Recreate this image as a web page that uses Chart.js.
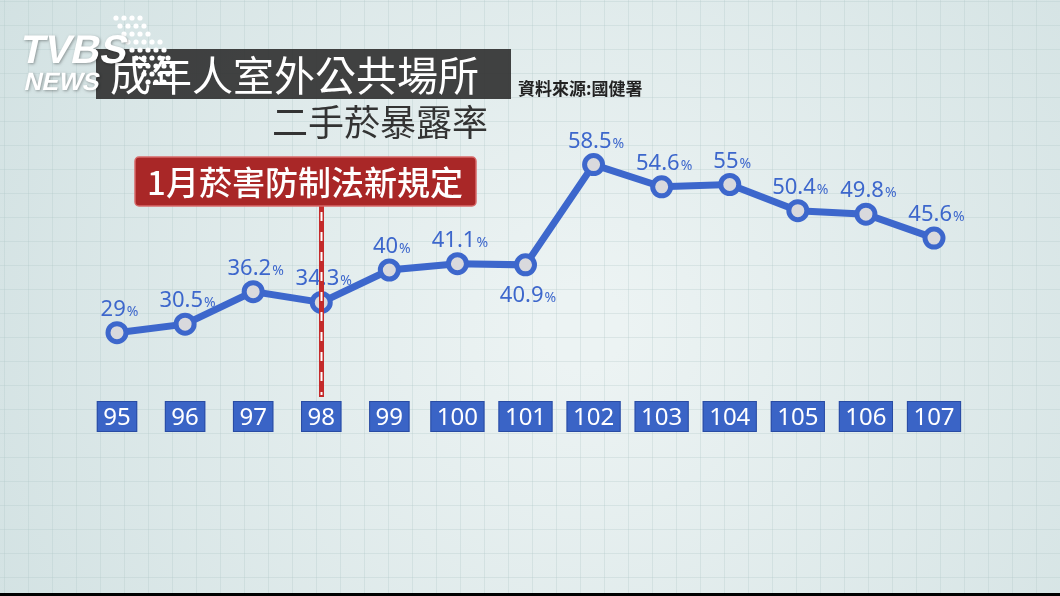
<!DOCTYPE html>
<html>
<head>
<meta charset="utf-8">
<script src="https://cdn.jsdelivr.net/npm/chart.js@4"></script>
<style>
  html, body { margin: 0; padding: 0; background: #000; }
  #chart { display: block; }
</style>
</head>
<body>
<canvas id="chart" width="1060" height="596"></canvas>
<script>
// ==========================================
// DATA
// ==========================================
const years = ['95', '96', '97', '98', '99', '100', '101', '102', '103', '104', '105', '106', '107'];
const exposureRates = [29, 30.5, 36.2, 34.3, 40, 41.1, 40.9, 58.5, 54.6, 55, 50.4, 49.8, 45.6];
const titleLine1 = '成年人室外公共場所';
const titleLine2 = '二手菸暴露率';
const sourceText = '資料來源:國健署';
const eventText = '1月菸害防制法新規定';
const eventYear = '98';

const BLUE = '#3d67cc';
const CJK = '"Noto Sans CJK TC", "Noto Sans", sans-serif';
const NUM = '"Noto Sans", "DejaVu Sans", sans-serif';

// ==========================================
// BACKGROUND (grid paper + titles + logo)
// ==========================================
const backgroundPlugin = {
  id: 'tvbsBackground',
  beforeDraw(chart) {
    const ctx = chart.ctx;
    const w = chart.width, h = chart.height;
    ctx.save();

    const g = ctx.createRadialGradient(w * 0.55, h * 0.55, 40, w * 0.55, h * 0.55, w * 0.75);
    g.addColorStop(0, '#ecf3f3');
    g.addColorStop(1, '#cddedf');
    ctx.fillStyle = g;
    ctx.fillRect(0, 0, w, h);

    ctx.strokeStyle = 'rgba(175,198,200,0.3)';
    ctx.lineWidth = 1;
    ctx.beginPath();
    for (let x = 4; x < w; x += 24) { ctx.moveTo(x + 0.5, 0); ctx.lineTo(x + 0.5, h); }
    for (let y = 1; y < h; y += 24) { ctx.moveTo(0, y + 0.5); ctx.lineTo(w, y + 0.5); }
    ctx.stroke();

    // title box
    ctx.fillStyle = 'rgba(50,50,50,0.92)';
    ctx.fillRect(96, 49, 415, 50);
    ctx.fillStyle = '#ffffff';
    ctx.font = '41px ' + CJK;
    ctx.textBaseline = 'middle';
    ctx.textAlign = 'left';
    ctx.fillText(titleLine1, 110, 75);

    ctx.fillStyle = '#333333';
    ctx.font = '36px ' + CJK;
    ctx.textAlign = 'center';
    ctx.fillText(titleLine2, 380, 122);

    ctx.fillStyle = '#222222';
    ctx.font = 'bold 17px ' + CJK;
    ctx.textAlign = 'left';
    ctx.fillText(sourceText, 518, 89);

    // logo
    ctx.fillStyle = '#ffffff';
    const dotRows = [[0, 4], [1, 4], [2, 4], [3, 5], [4, 5], [5, 5], [6, 5], [7, 4], [8, 3]];
    dotRows.forEach(([r, n]) => {
      for (let i = 0; i < n; i++) {
        ctx.beginPath();
        ctx.arc(116 + r * 4 + i * 8, 18 + r * 8, 2.6, 0, Math.PI * 2);
        ctx.fill();
      }
    });
    ctx.shadowColor = 'rgba(0,0,0,0.35)';
    ctx.shadowBlur = 3;
    ctx.shadowOffsetX = 1;
    ctx.shadowOffsetY = 1;
    ctx.textBaseline = 'alphabetic';
    ctx.save();
    ctx.transform(1, 0, -0.22, 1, 0, 0);
    ctx.font = 'bold 40px "Liberation Sans", Arial, sans-serif';
    ctx.fillText('TVBS', 32, 63);
    ctx.font = 'bold 25px "Liberation Sans", Arial, sans-serif';
    ctx.fillText('NEWS', 43, 90);
    ctx.restore();
    ctx.restore();

    // bottom black strip
    ctx.fillStyle = '#000';
    ctx.fillRect(0, 593, w, 3);
  }
};

// ==========================================
// LABELS, YEAR BOXES, EVENT MARKER
// ==========================================
const overlayPlugin = {
  id: 'overlay',
  afterDatasetsDraw(chart) {
    const ctx = chart.ctx;
    const meta = chart.getDatasetMeta(0);
    const xs = chart.scales.x;
    ctx.save();

    // value labels
    meta.data.forEach((pt, i) => {
      const num = String(exposureRates[i]);
      ctx.font = '22px ' + NUM;
      const wNum = ctx.measureText(num).width;
      ctx.font = '14px ' + NUM;
      const wPct = ctx.measureText('%').width;
      const left = pt.x + 2 - (wNum + wPct) / 2;
      const base = i === 6 ? pt.y + 37 : pt.y - 17;
      ctx.fillStyle = BLUE;
      ctx.textAlign = 'left';
      ctx.textBaseline = 'alphabetic';
      ctx.font = '22px ' + NUM;
      ctx.fillText(num, left, base);
      ctx.font = '14px ' + NUM;
      ctx.fillText('%', left + wNum + 1, base);
    });

    // year boxes
    years.forEach((yr) => {
      const cx = xs.getPixelForValue(years.indexOf(yr));
      ctx.font = '24px ' + NUM;
      const bw = ctx.measureText(yr).width + 13;
      ctx.fillStyle = '#3a64c6';
      ctx.fillRect(cx - bw / 2, 401, bw, 31);
      ctx.strokeStyle = 'rgba(30,60,140,0.6)';
      ctx.lineWidth = 1;
      ctx.strokeRect(cx - bw / 2 + 0.5, 401.5, bw - 1, 30);
      ctx.fillStyle = '#ffffff';
      ctx.textAlign = 'center';
      ctx.fillText(yr, cx, 425);
    });

    // event marker
    const ex = Math.round(xs.getPixelForValue(years.indexOf(eventYear)));
    ctx.fillStyle = '#c42a2a';
    ctx.fillRect(ex - 2, 205, 5, 192);
    ctx.strokeStyle = '#ffffff';
    ctx.lineWidth = 2;
    ctx.setLineDash([9, 11]);
    ctx.beginPath();
    ctx.moveTo(ex + 0.5, 212);
    ctx.lineTo(ex + 0.5, 395);
    ctx.stroke();
    ctx.setLineDash([]);

    // event box
    ctx.fillStyle = '#a92727';
    ctx.strokeStyle = '#d86a6a';
    ctx.lineWidth = 1.5;
    ctx.beginPath();
    ctx.roundRect(135, 157, 341, 49, 4);
    ctx.fill();
    ctx.stroke();
    ctx.fillStyle = '#ffffff';
    ctx.font = '500 33px ' + CJK;
    ctx.textAlign = 'center';
    ctx.textBaseline = 'middle';
    ctx.fillText(eventText, 305, 182);
    ctx.restore();
  }
};

// ==========================================
// CHART
// ==========================================
new Chart(document.getElementById('chart'), {
  type: 'line',
  data: {
    labels: years,
    datasets: [{
      data: exposureRates,
      borderColor: BLUE,
      borderWidth: 7,
      pointRadius: 9,
      pointBorderWidth: 5,
      pointBackgroundColor: '#d9d9dd',
      pointBorderColor: BLUE,
      tension: 0
    }]
  },
  options: {
    responsive: false,
    animation: false,
    layout: { padding: { left: 117, right: 126, top: 42, bottom: 98 } },
    plugins: { legend: { display: false }, tooltip: { enabled: false } },
    scales: {
      x: { display: false, offset: false },
      y: { display: false, min: 0, max: 80 }
    }
  },
  plugins: [backgroundPlugin, overlayPlugin]
});
</script>
</body>
</html>
